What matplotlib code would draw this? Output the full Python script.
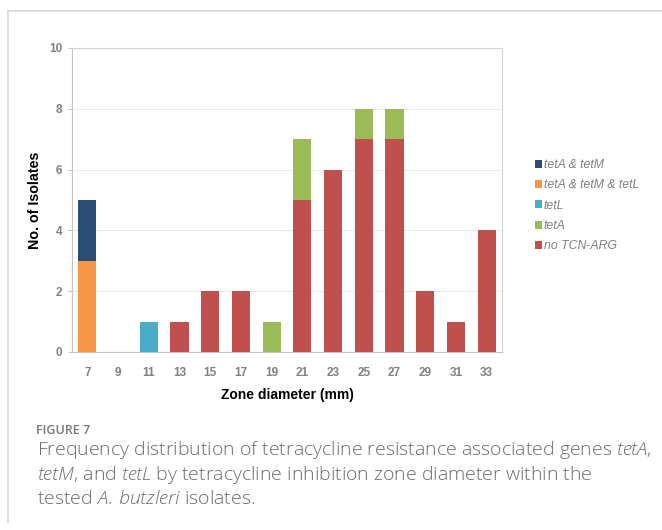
import matplotlib
matplotlib.use("Agg")
import matplotlib.pyplot as plt
from matplotlib.lines import Line2D
import numpy as np

plt.rcParams['font.family'] = ['Liberation Sans', 'DejaVu Sans']
plt.rcParams['mathtext.fontset'] = 'custom'
plt.rcParams['mathtext.rm'] = 'Open Sans:light'
plt.rcParams['mathtext.it'] = 'Open Sans:italic:light'

categories = ['7', '9', '11', '13', '15', '17', '19', '21', '23', '25', '27', '29', '31', '33']
no_tcn_arg = [0, 0, 0, 1, 2, 2, 0, 5, 6, 7, 7, 2, 1, 4]
tetA = [0, 0, 0, 0, 0, 0, 1, 2, 0, 1, 1, 0, 0, 0]
tetL = [0, 0, 1, 0, 0, 0, 0, 0, 0, 0, 0, 0, 0, 0]
tetA_tetM_tetL = [3, 0, 0, 0, 0, 0, 0, 0, 0, 0, 0, 0, 0, 0]
tetA_tetM = [2, 0, 0, 0, 0, 0, 0, 0, 0, 0, 0, 0, 0, 0]

series = [
    ('no TCN-ARG', no_tcn_arg, '#C0504D'),
    ('tetA', tetA, '#9BBB59'),
    ('tetL', tetL, '#4BACC6'),
    ('tetA & tetM & tetL', tetA_tetM_tetL, '#F79646'),
    ('tetA & tetM', tetA_tetM, '#2C4D75'),
]

W, H = 662, 530
fig = plt.figure(figsize=(W / 100, H / 100), dpi=100)

# card frame
fig.add_artist(Line2D([8 / W, 1], [1 - 11 / H, 1 - 11 / H], color='#d9d9d9', lw=1.2))
fig.add_artist(Line2D([8 / W, 8 / W], [1 - 11 / H, 1 - 522 / H], color='#d9d9d9', lw=1.2))

ax = fig.add_axes([72 / W, 1 - 352 / H, 430 / W, 304 / H])
x = np.arange(len(categories))
bottom = np.zeros(len(categories))
handles = []
for name, vals, col in series:
    v = np.array(vals, dtype=float)
    b = ax.bar(x, v, width=0.59, bottom=bottom, color=col, label=name, zorder=3)
    handles.append(b)
    bottom += v

ax.set_xlim(-0.5, len(categories) - 0.5)
ax.set_ylim(0, 10)
ax.set_yticks(range(0, 11, 2))
ax.set_xticks(x)
ax.set_xticklabels(categories)
ax.grid(axis='y', color='#ebebeb', lw=0.8, zorder=0)
for s in ['top', 'right']:
    ax.spines[s].set_color('#d4d4d4')
    ax.spines[s].set_linewidth(0.8)
for s in ['left', 'bottom']:
    ax.spines[s].set_color('#c4c4c4')
    ax.spines[s].set_linewidth(0.8)
ax.tick_params(axis='y', length=3, color='#c4c4c4', labelsize=8.5, labelcolor='#808080', pad=4)
ax.tick_params(axis='x', length=0, labelsize=8.5, labelcolor='#808080', pad=11)
for lab in ax.get_xticklabels() + ax.get_yticklabels():
    lab.set_fontweight('bold')
ax.set_xlabel('Zone diameter (mm)', fontsize=10, fontweight='bold', color='black', labelpad=6)
ax.set_ylabel('No. of Isolates', fontsize=10.3, fontweight='bold', color='black', labelpad=5)

leg = fig.legend(handles[::-1], [s[0] for s in series][::-1],
                 loc='upper left', bbox_to_anchor=(524 / W, 1 - 148 / H),
                 frameon=False, handlelength=0.6, handleheight=0.6,
                 handletextpad=0.1, labelspacing=0.68,
                 prop={'family': 'Liberation Sans', 'style': 'italic', 'size': 8.8})
for t in leg.get_texts():
    t.set_color('#7f7f7f')

# caption
fig.text(36 / W, 1 - 431 / H, 'FIGURE 7', fontsize=9, fontweight='semibold',
         family='Open Sans', color='#777777', va='center')
cap_lines = [
    r'Frequency distribution of tetracycline resistance associated genes $\it{tetA}$,',
    r'$\it{tetM}$, and $\it{tetL}$ by tetracycline inhibition zone diameter within the',
    r'tested $\it{A.}\,\it{butzleri}$ isolates.',
]
for i, line in enumerate(cap_lines):
    fig.text(37 / W, 1 - (450 + i * 24.5) / H, line, fontsize=14, family='Open Sans',
             color='#6b6b6b', va='center', fontweight='light')

fig.savefig('out.png', dpi=100)
